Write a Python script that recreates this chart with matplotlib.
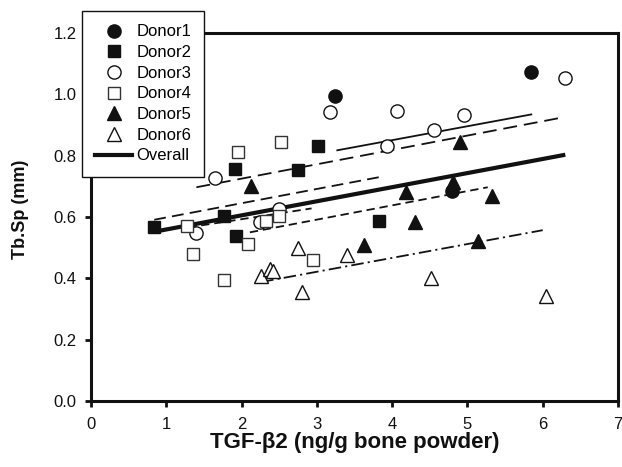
import matplotlib
matplotlib.use("Agg")
import matplotlib.pyplot as plt
from matplotlib.lines import Line2D

plt.rcParams['font.family'] = ['Liberation Sans', 'DejaVu Sans']
plt.rcParams['lines.scale_dashes'] = False

# ---- data ----
donor1_x = [3.24, 4.79, 5.85]
donor1_y = [0.996, 0.686, 1.074]
donor2_x = [0.84, 1.77, 1.91, 1.93, 2.75, 3.01, 3.83]
donor2_y = [0.566, 0.602, 0.757, 0.539, 0.752, 0.832, 0.588]
donor3_x = [1.40, 1.65, 2.25, 2.50, 3.18, 3.93, 4.07, 4.55, 4.95, 6.29]
donor3_y = [0.547, 0.728, 0.585, 0.626, 0.941, 0.830, 0.947, 0.885, 0.932, 1.052]
donor4_x = [1.28, 1.35, 1.76, 1.95, 2.08, 2.33, 2.50, 2.52, 2.95]
donor4_y = [0.571, 0.479, 0.393, 0.812, 0.511, 0.588, 0.604, 0.845, 0.460]
donor5_x = [2.13, 3.63, 4.18, 4.31, 4.81, 4.90, 5.14, 5.32]
donor5_y = [0.700, 0.508, 0.681, 0.583, 0.714, 0.845, 0.522, 0.670]
donor6_x = [2.26, 2.38, 2.42, 2.75, 2.80, 3.40, 4.52, 6.04]
donor6_y = [0.408, 0.430, 0.425, 0.498, 0.356, 0.475, 0.400, 0.342]

# regression lines (endpoints)
fit1_x = [3.26, 5.86]; fit1_y = [0.817, 0.935]
fit2_x = [0.84, 3.83]; fit2_y = [0.591, 0.730]
fit3_x = [1.40, 6.25]; fit3_y = [0.697, 0.924]
fit4_x = [1.29, 2.93]; fit4_y = [0.566, 0.628]
fit5_x = [2.11, 5.27]; fit5_y = [0.550, 0.697]
fit6_x = [2.26, 6.00]; fit6_y = [0.388, 0.557]
overall_x = [0.84, 6.30]; overall_y = [0.552, 0.803]

labels = ['Donor1', 'Donor2', 'Donor3', 'Donor4', 'Donor5', 'Donor6', 'Overall']
xticks = [0, 1, 2, 3, 4, 5, 6, 7]
yticks = [0.0, 0.2, 0.4, 0.6, 0.8, 1.0, 1.2]

# ---- figure ----
fig = plt.figure(figsize=(6.22, 4.67), dpi=100)
ax = fig.add_axes([91/622, 1-401/467, (618-91)/622, (401-33)/467])

k = '#111111'
ms_c, ms_s, ms_t = 9.5, 8.5, 10.5
mew = 1.0

# fit lines
ax.plot(fit1_x, fit1_y, color=k, lw=1.3, solid_capstyle='butt')
l2, = ax.plot(fit2_x, fit2_y, color=k, lw=1.3)
l2.set_dashes((8.5, 4.5))
l3, = ax.plot(fit3_x, fit3_y, color=k, lw=1.3)
l3.set_dashes((10, 5))
l4, = ax.plot(fit4_x, fit4_y, color=k, lw=1.3)
l4.set_dashes((6, 3.5))
l5, = ax.plot(fit5_x, fit5_y, color=k, lw=1.3)
l5.set_dashes((6, 3.5))
l6, = ax.plot(fit6_x, fit6_y, color=k, lw=1.3)
l6.set_dashes((9, 3, 1.5, 3))
ax.plot(overall_x, overall_y, color=k, lw=3.0, solid_capstyle='butt')

# points
ax.plot(donor1_x, donor1_y, 'o', ms=ms_c, mfc=k, mec=k, mew=mew, ls='none')
ax.plot(donor2_x, donor2_y, 's', ms=ms_s, mfc=k, mec=k, mew=mew, ls='none')
ax.plot(donor3_x, donor3_y, 'o', ms=ms_c, mfc='white', mec=k, mew=mew, ls='none')
ax.plot(donor4_x, donor4_y, 's', ms=ms_s, mfc='white', mec='#333333', mew=mew, ls='none')
ax.plot(donor5_x, donor5_y, '^', ms=ms_t, mfc=k, mec=k, mew=mew, ls='none')
ax.plot(donor6_x, donor6_y, '^', ms=ms_t, mfc='white', mec=k, mew=mew, ls='none')

ax.set_xlim(0, 7)
ax.set_ylim(0, 1.2)
ax.set_xticks(xticks)
ax.set_xticklabels([str(t) for t in xticks])
ax.set_yticks(yticks)
ax.set_yticklabels([f'{t:.1f}' for t in yticks])

for s in ax.spines.values():
    s.set_linewidth(2.2)
    s.set_color(k)
ax.tick_params(direction='out', length=4.5, width=2.0, pad=6,
               labelsize=12, colors=k)
ax.tick_params(axis='x', pad=7)

ax.set_xlabel('TGF-β2 (ng/g bone powder)', fontsize=16, fontweight='bold',
              labelpad=0, color=k)
ax.set_ylabel('Tb.Sp (mm)', fontsize=13, fontweight='bold', labelpad=11, color=k)
ax.yaxis.set_label_coords(-0.118, 0.52)

# legend
handles = [
    Line2D([], [], marker='o', ls='none', ms=ms_c, mfc=k, mec=k, mew=mew),
    Line2D([], [], marker='s', ls='none', ms=ms_s, mfc=k, mec=k, mew=mew),
    Line2D([], [], marker='o', ls='none', ms=ms_c, mfc='white', mec=k, mew=mew),
    Line2D([], [], marker='s', ls='none', ms=ms_s, mfc='white', mec='#333333', mew=mew),
    Line2D([], [], marker='^', ls='none', ms=ms_t, mfc=k, mec=k, mew=mew),
    Line2D([], [], marker='^', ls='none', ms=ms_t, mfc='white', mec=k, mew=mew),
    Line2D([], [], color=k, lw=3.0),
]
leg = ax.legend(handles, labels, loc='upper left',
                bbox_to_anchor=(82/622, 1-11/467), bbox_transform=fig.transFigure,
                borderaxespad=0, fancybox=False, framealpha=1, edgecolor=k,
                fontsize=12, handlelength=2.2, handletextpad=0.25,
                labelspacing=0.34, borderpad=0.8)
leg.get_frame().set_linewidth(1.0)
leg.set_zorder(10)

fig.savefig('out.png', dpi=100)
